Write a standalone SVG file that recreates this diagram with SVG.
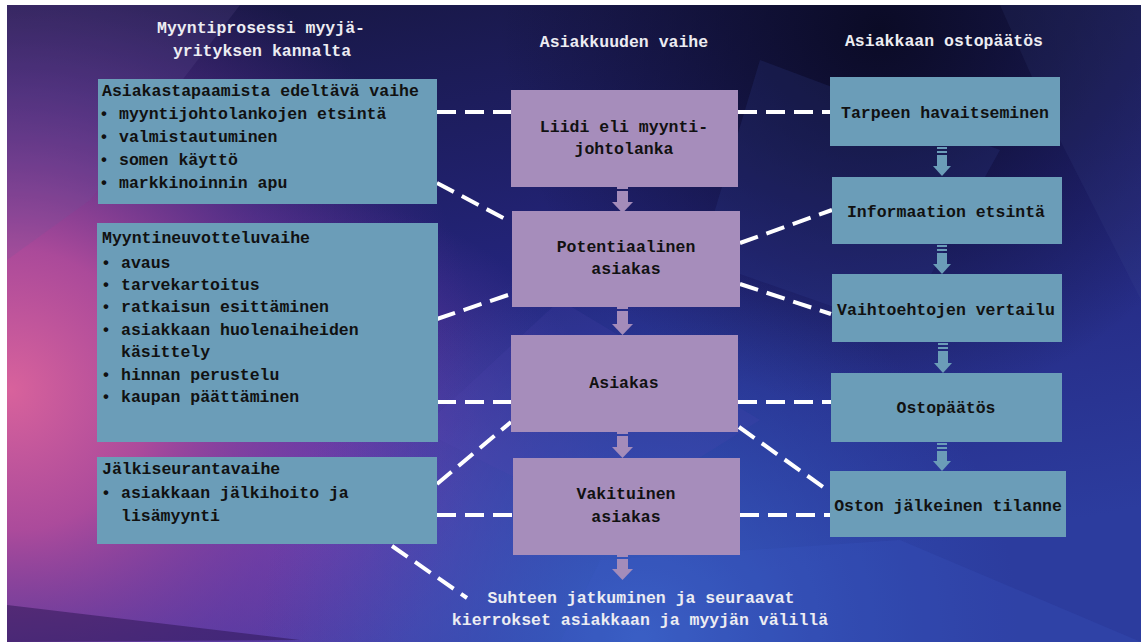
<svg xmlns="http://www.w3.org/2000/svg" width="1141" height="642" viewBox="0 0 1141 642" font-family="Liberation Mono, DejaVu Sans Mono, Courier New, monospace">
<defs>
<linearGradient id="base" x1="0" y1="0" x2="0.3" y2="1">
<stop offset="0" stop-color="#17163f"/>
<stop offset="0.5" stop-color="#23247a"/>
<stop offset="1" stop-color="#2c3c9e"/>
</linearGradient>
<radialGradient id="pink" cx="10" cy="390" r="470" gradientUnits="userSpaceOnUse">
<stop offset="0" stop-color="#d8629c"/>
<stop offset="0.3" stop-color="#b24c9c" stop-opacity="0.95"/>
<stop offset="0.65" stop-color="#7a3aa0" stop-opacity="0.5"/>
<stop offset="1" stop-color="#5a2a90" stop-opacity="0"/>
</radialGradient>
<radialGradient id="blue" cx="640" cy="640" r="380" gradientUnits="userSpaceOnUse">
<stop offset="0" stop-color="#3a60c4"/>
<stop offset="1" stop-color="#3050b8" stop-opacity="0"/>
</radialGradient>
<radialGradient id="purp" cx="320" cy="500" r="300" gradientUnits="userSpaceOnUse">
<stop offset="0" stop-color="#8048b8" stop-opacity="0.85"/>
<stop offset="1" stop-color="#7c44b4" stop-opacity="0"/>
</radialGradient>
<radialGradient id="dark" cx="880" cy="30" r="380" gradientUnits="userSpaceOnUse">
<stop offset="0" stop-color="#0b0b26"/>
<stop offset="1" stop-color="#0b0b26" stop-opacity="0"/>
</radialGradient>
<style>
text{font-family:Liberation Mono,DejaVu Sans Mono,Courier New,monospace;font-weight:700;font-size:16.5px}
.lbox{fill:#6b9db8}
.mbox{fill:#a68dbb}
.t{fill:#111}
.c{text-anchor:middle}
.h{fill:#ececf2;text-anchor:middle}
.dash{stroke:#ffffff;stroke-width:4;stroke-dasharray:19 9;fill:none}
.ma{fill:#a48cba}
.ra{fill:#6b9db8}
</style>
</defs>
<rect width="1141" height="642" fill="#ffffff"/>
<g id="background">
<rect x="7" y="5" width="1134" height="637" fill="url(#base)"/>
<rect x="7" y="5" width="1134" height="637" fill="url(#dark)"/>
<rect x="7" y="5" width="1134" height="637" fill="url(#purp)"/>
<rect x="7" y="5" width="1134" height="637" fill="url(#pink)"/>
<rect x="7" y="5" width="1134" height="637" fill="url(#blue)"/>
<polygon points="7,5 240,5 90,200 7,260" fill="#6a5a9a" opacity="0.18"/>
<polygon points="7,605 300,640 7,642" fill="#2a1450" opacity="0.5"/>
<polygon points="760,60 1000,150 900,330 700,260" fill="#3a4aa0" opacity="0.18"/>
<polygon points="1000,5 1141,5 1141,300 1060,140" fill="#4a5aa0" opacity="0.12"/>
<polygon points="600,560 900,540 1141,642 560,642" fill="#3a5ac8" opacity="0.2"/>
<polygon points="420,430 560,300 760,420 600,520" fill="#5a4ab8" opacity="0.15"/>
</g>
<g id="headers">
<text class="h" x="261" y="33">Myyntiprosessi myyjä-</text>
<text class="h" x="262" y="56">yrityksen kannalta</text>
<text class="h" x="624" y="47">Asiakkuuden vaihe</text>
<text class="h" x="944" y="46">Asiakkaan ostopäätös</text>
</g>
<g id="connectors">
<line class="dash" x1="437" y1="112" x2="511" y2="112"/>
<line class="dash" x1="738" y1="112" x2="830" y2="112"/>
<line class="dash" x1="437" y1="183" x2="511" y2="222"/>
<line class="dash" x1="437" y1="319" x2="511" y2="294"/>
<line class="dash" x1="740" y1="243" x2="832" y2="210"/>
<line class="dash" x1="740" y1="284" x2="831" y2="314"/>
<line class="dash" x1="437" y1="402" x2="511" y2="402"/>
<line class="dash" x1="738" y1="402" x2="831" y2="402"/>
<line class="dash" x1="437" y1="484" x2="511" y2="422"/>
<line class="dash" x1="437" y1="515" x2="513" y2="515"/>
<line class="dash" x1="740" y1="515" x2="830" y2="515"/>
<line class="dash" x1="739" y1="427" x2="826" y2="489"/>
<line class="dash" x1="392" y1="546" x2="467" y2="598"/>
</g>
<g id="arrows">
<g class="ma">
<rect x="617" y="187" width="11" height="2"/><rect x="617" y="191" width="11" height="11"/><polygon points="612,202 633,202 622.5,213"/>
<rect x="617" y="307" width="11" height="2"/><rect x="617" y="311" width="11" height="13"/><polygon points="612,324 633,324 622.5,335"/>
<rect x="617" y="432" width="11" height="2"/><rect x="617" y="436" width="11" height="11"/><polygon points="612,447 633,447 622.5,458"/>
<rect x="617" y="555" width="11" height="2"/><rect x="617" y="559" width="11" height="10"/><polygon points="612,569 633,569 622.5,580"/>
</g>
<g class="ra">
<rect x="937" y="147" width="10" height="2"/><rect x="937" y="151" width="10" height="2"/><rect x="937" y="155" width="10" height="11"/><polygon points="933,166 951,166 942,176"/>
<rect x="937" y="245" width="10" height="2"/><rect x="937" y="249" width="10" height="2"/><rect x="937" y="253" width="10" height="11"/><polygon points="933,264 951,264 942,274"/>
<rect x="938" y="343" width="10" height="2"/><rect x="938" y="347" width="10" height="2"/><rect x="938" y="351" width="10" height="12"/><polygon points="934,363 952,363 943,373"/>
<rect x="937" y="443" width="10" height="2"/><rect x="937" y="447" width="10" height="2"/><rect x="937" y="451" width="10" height="10"/><polygon points="933,461 951,461 942,471"/>
</g>
</g>
<g id="left1">
<rect class="lbox" x="98" y="79" width="339" height="125"/>
<text class="t" x="102" y="96">Asiakastapaamista edeltävä vaihe</text>
<text class="t" x="99" y="119">•</text><text class="t" x="119" y="119">myyntijohtolankojen etsintä</text>
<text class="t" x="99" y="142">•</text><text class="t" x="119" y="142">valmistautuminen</text>
<text class="t" x="99" y="165">•</text><text class="t" x="119" y="165">somen käyttö</text>
<text class="t" x="99" y="188">•</text><text class="t" x="119" y="188">markkinoinnin apu</text>
</g>
<g id="left2">
<rect class="lbox" x="97" y="223" width="341" height="219"/>
<text class="t" x="102" y="243">Myyntineuvotteluvaihe</text>
<text class="t" x="101" y="268">•</text><text class="t" x="121" y="268">avaus</text>
<text class="t" x="101" y="290">•</text><text class="t" x="121" y="290">tarvekartoitus</text>
<text class="t" x="101" y="312">•</text><text class="t" x="121" y="312">ratkaisun esittäminen</text>
<text class="t" x="101" y="335">•</text><text class="t" x="121" y="335">asiakkaan huolenaiheiden</text>
<text class="t" x="121" y="357">käsittely</text>
<text class="t" x="101" y="380">•</text><text class="t" x="121" y="380">hinnan perustelu</text>
<text class="t" x="101" y="402">•</text><text class="t" x="121" y="402">kaupan päättäminen</text>
</g>
<g id="left3">
<rect class="lbox" x="97" y="457" width="340" height="87"/>
<text class="t" x="102" y="474">Jälkiseurantavaihe</text>
<text class="t" x="101" y="498">•</text><text class="t" x="121" y="498">asiakkaan jälkihoito ja</text>
<text class="t" x="121" y="521">lisämyynti</text>
</g>
<g id="mid1">
<rect class="mbox" x="511" y="90" width="227" height="97"/>
<text class="t c" x="624" y="132">Liidi eli myynti-</text>
<text class="t c" x="624" y="154">johtolanka</text>
</g>
<g id="mid2">
<rect class="mbox" x="512" y="211" width="228" height="96"/>
<text class="t c" x="626" y="252">Potentiaalinen</text>
<text class="t c" x="626" y="274">asiakas</text>
</g>
<g id="mid3">
<rect class="mbox" x="511" y="335" width="227" height="97"/>
<text class="t c" x="624" y="388">Asiakas</text>
</g>
<g id="mid4">
<rect class="mbox" x="513" y="458" width="227" height="97"/>
<text class="t c" x="626" y="499">Vakituinen</text>
<text class="t c" x="626" y="522">asiakas</text>
</g>
<g id="right1">
<rect class="lbox" x="830" y="77" width="230" height="69"/>
<text class="t c" x="945" y="118">Tarpeen havaitseminen</text>
</g>
<g id="right2">
<rect class="lbox" x="832" y="177" width="230" height="67"/>
<text class="t c" x="946" y="217">Informaation etsintä</text>
</g>
<g id="right3">
<rect class="lbox" x="832" y="274" width="230" height="68"/>
<text class="t c" x="946" y="315">Vaihtoehtojen vertailu</text>
</g>
<g id="right4">
<rect class="lbox" x="831" y="373" width="231" height="69"/>
<text class="t c" x="946" y="413">Ostopäätös</text>
</g>
<g id="right5">
<rect class="lbox" x="830" y="471" width="236" height="66"/>
<text class="t c" x="948" y="511">Oston jälkeinen tilanne</text>
</g>
<g id="footer">
<text class="h" x="641" y="603">Suhteen jatkuminen ja seuraavat</text>
<text class="h" x="640" y="625">kierrokset asiakkaan ja myyjän välillä</text>
</g>
</svg>
